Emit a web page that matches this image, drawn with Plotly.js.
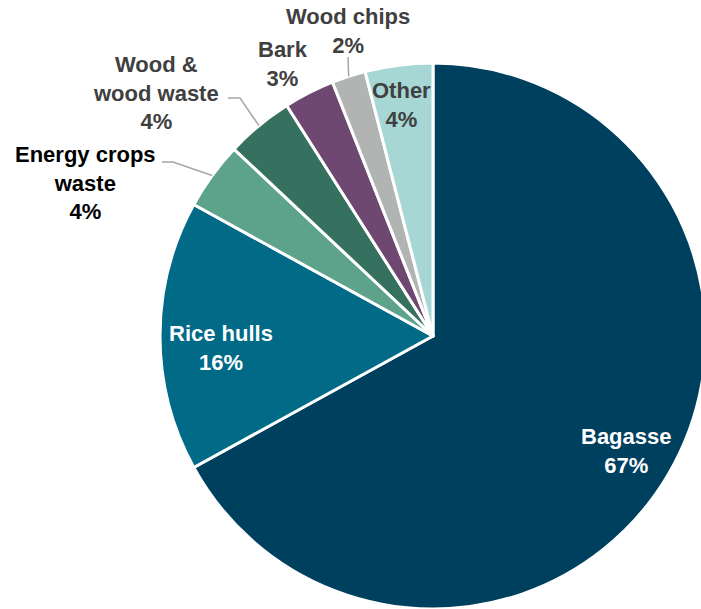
<!DOCTYPE html>
<html>
<head>
<meta charset="utf-8">
<script src="https://cdn.plot.ly/plotly-3.0.1.min.js"></script>
<style>
  html, body { margin: 0; padding: 0; background: #fff; overflow: hidden; }
  #chart { width: 710px; height: 609px; }
</style>
</head>
<body>
<div id="chart"></div>
<script>
// ---- data ----
const categories = ["Bagasse", "Rice hulls", "Energy crops waste", "Wood & wood waste", "Bark", "Wood chips", "Other"];
const shareValues = [67, 16, 4, 4, 3, 2, 4];
const displayLabels = ["Bagasse", "Rice hulls", "Energy crops<br>waste", "Wood &<br>wood waste", "Bark", "Wood chips", "Other"];

// ---- styles ----
const sliceColors = ["#00405F", "#006A87", "#5DA38B", "#36705E", "#6E4870", "#B2B3B3", "#A6D7D5"];
const labelColors = ["#FFFFFF", "#FFFFFF", "#000000", "#404040", "#404040", "#404040", "#404040"];
// label block centres in page pixels
const labelPos = [[626, 451], [221, 348], [85, 183], [156, 93], [283, 64], [348, 31], [401, 105]];
// leader lines: start point (and optional elbow) in page pixels; end is at slice's outer edge
const leaders = [null, null, [[162, 162], [173, 162]], [[228, 98], [240, 98]], null, [[348, 57]], null];

const W = 710, H = 609;
const M = {l: 0, r: 0, t: 63, b: 0};
const CX = 433, R = 273;
const CY = M.t + (H - M.t - M.b) / 2;

const px2x = x => (x - M.l) / (W - M.l - M.r);
const px2y = y => 1 - (y - M.t) / (H - M.t - M.b);

const total = shareValues.reduce((a, b) => a + b, 0);
let cum = 0;
const annotations = [];
const shapes = [];
shareValues.forEach((v, i) => {
  const mid = (cum + v / 2) / total * 2 * Math.PI; // clockwise from 12 o'clock
  cum += v;
  annotations.push({
    xref: 'paper', yref: 'paper',
    x: px2x(labelPos[i][0]), y: px2y(labelPos[i][1]),
    xanchor: 'center', yanchor: 'middle', align: 'center',
    showarrow: false,
    text: displayLabels[i] + '<br>' + v + '%',
    font: {family: 'Arial, "Liberation Sans", sans-serif', size: 22, color: labelColors[i], weight: 'bold'}
  });
  if (leaders[i]) {
    const ex = CX + R * Math.sin(mid), ey = CY - R * Math.cos(mid);
    const pts = leaders[i].concat([[ex, ey]]);
    let path = '';
    pts.forEach((p, k) => { path += (k === 0 ? 'M' : ' L') + px2x(p[0]) + ',' + px2y(p[1]); });
    shapes.push({type: 'path', xref: 'paper', yref: 'paper', path: path,
      line: {color: '#A6A6A6', width: 1.5}});
  }
});

const trace = {
  type: 'pie',
  labels: categories,
  values: shareValues,
  sort: false,
  direction: 'clockwise',
  rotation: 0,
  textinfo: 'none',
  hoverinfo: 'none',
  showlegend: false,
  marker: {colors: sliceColors, line: {color: '#FFFFFF', width: 3}},
  domain: {x: [px2x(CX - R), px2x(CX + R)], y: [0, 1]}
};

Plotly.newPlot('chart', [trace], {
  width: W, height: H,
  margin: M,
  paper_bgcolor: '#FFFFFF',
  plot_bgcolor: '#FFFFFF',
  showlegend: false,
  annotations: annotations,
  shapes: shapes
}, {displayModeBar: false, staticPlot: true});
</script>
</body>
</html>
